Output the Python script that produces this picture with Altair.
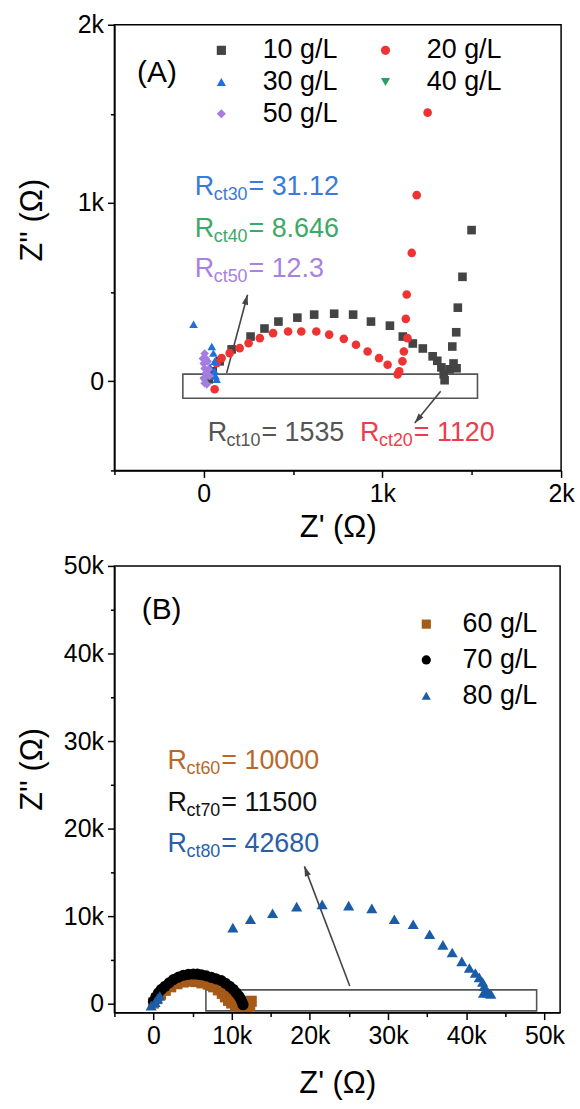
import math
import altair as alt
import pandas as pd

FONT = "Liberation Sans"

# ---------------- Panel A : 10-50 g/L ----------------
# legend fills column by column, so the order below gives rows 10|20, 30|40, 50
a_series = ["10 g/L", "30 g/L", "50 g/L", "20 g/L", "40 g/L"]
a_colors = ["#444444", "#1f6fdc", "#a57ce0", "#ee3333", "#2ca062"]
a_shapes = ["square", "triangle-up", "diamond", "circle", "triangle-down"]

a10_x = [28, 50, 89, 156, 262, 340, 418, 524, 618, 730, 836, 936, 1042, 1114, 1170,
         1226, 1281, 1307, 1330, 1343, 1348, 1376, 1398, 1415, 1391, 1413, 1422, 1448, 1499]
a10_y = [11, 56, 112, 179, 251, 296, 335, 357, 374, 379, 374, 335, 312, 251, 212,
         184, 140, 115, 78, 39, 6, 67, 100, 73, 195, 275, 413, 586, 848]

a20_x = [61, 72, 100, 145, 201, 251, 314, 388, 472, 546, 630, 702, 784, 852, 917,
         981, 1029, 1085, 1094, 1112, 1120, 1140, 1131, 1136, 1164, 1192, 1253]
a20_y = [-45, 102, 130, 158, 186, 214, 242, 270, 279, 279, 279, 262, 238, 205, 167,
         130, 93, 39, 56, 112, 167, 242, 350, 487, 720, 1044, 1507]

a30_x = [-57, 45, 54, 61, 61, 72, 35, 66]
a30_y = [320, 195, 158, 112, 56, 11, 80, 30]

a40_x = [2, 4, 6, 8, 9]
a40_y = [1, 3, 4, 3, 1]

a50_x = [5, 11, 0, 5, 11, 0, 5, 17, 22, 28, -5, 33]
a50_y = [156, 128, 100, 72, 45, 17, -11, -17, 112, 67, 128, 30]

a_draw_order = ["10 g/L", "20 g/L", "30 g/L", "40 g/L", "50 g/L"]

a_xdom = [-500, 2000]
a_ydom = [-500, 2000]
a_ticks = [-500, 0, 500, 1000, 1500, 2000]

a_box = {"x": [-117], "x2": [1532], "y": [-95], "y2": [40]}
a_arrow_x1 = [128, 1326]
a_arrow_y1 = [46, -56]
a_arrow_x2 = [245, 1181]
a_arrow_y2 = [485, -234]

a_rct_sub = ["ct30", "ct40", "ct50", "ct10", "ct20"]
a_rct_val = ["= 31.12", "= 8.646", "= 12.3", "= 1535", "= 1120"]
a_rct_x = [-50, -50, -50, 22, 875]
a_rct_y = [1088, 854, 631, -290, -290]
a_rct_col = ["#3a7ad8", "#3ea86a", "#a882e0", "#555555", "#ee3d4a"]

# ---------------- Panel B : 60-80 g/L ----------------
b_series = ["60 g/L", "70 g/L", "80 g/L"]
b_colors = ["#a65a18", "#000000", "#1b5ca6"]
b_shapes = ["square", "circle", "triangle-up"]

b60_x = [0, 400, 900, 1500, 2200, 3000, 3800, 4600, 5400, 6200, 7000, 7700, 8300,
         8800, 9200, 9600, 10000, 10500, 11000, 11600, 12100, 12500, 12300, 11900]
b60_y = [100, 600, 1100, 1550, 1950, 2300, 2500, 2600, 2550, 2400, 2250, 1950, 1600,
         1200, 800, 400, 100, -150, -250, -100, 100, 300, -200, -300]

b70_x = [0, 300, 630, 1000, 1480, 2000, 2540, 3200, 3810, 4450, 5080, 5600, 6130,
         6750, 7400, 8000, 8670, 9200, 9730, 10200, 10580, 10900, 11130, 11300, 11450]
b70_y = [300, 800, 1250, 1650, 2010, 2400, 2770, 3050, 3260, 3370, 3410, 3400, 3330,
         3200, 3030, 2850, 2650, 2350, 2010, 1650, 1250, 900, 600, 230, -100]

b80_x = [-300, 200, 500, 800, 10150, 12400, 15230, 18310, 21570, 24960, 27920, 30800,
         33210, 35320, 37010, 38200, 39430, 40400, 41160, 41660, 42090, 42300, 42510,
         42850, 43140, 42200]
b80_y = [-200, 200, 600, 900, 8710, 9660, 10340, 11100, 11360, 11210, 10900, 9660,
         9090, 7950, 6740, 5870, 4850, 4090, 3520, 3030, 2500, 2010, 1510, 1250, 1140, 1250]

b_xdom = [-5000, 52000]
b_ydom = [-1000, 50000]
b_xticks = list(range(-5000, 50001, 5000))
b_yticks = list(range(0, 50001, 5000))

b_box = {"x": [6700], "x2": [49000], "y": [-800], "y2": [1600]}
b_arrow_x1 = [25100]
b_arrow_y1 = [2050]
b_arrow_x2 = [19300]
b_arrow_y2 = [15700]

b_rct_sub = ["ct60", "ct70", "ct80"]
b_rct_val = ["= 10000", "= 11500", "= 42680"]
b_rct_x = [1800, 1800, 1800]
b_rct_y = [27720, 22950, 18290]
b_rct_col = ["#b8692a", "#111111", "#2a5fa8"]

ARROW_PATH = "M0,0L-0.45,1.4L0.45,1.4Z"


def series_frame(names, xs, ys):
    rows = []
    for name, sx, sy in zip(names, xs, ys):
        for x, y in zip(sx, sy):
            rows.append({"series": name, "x": x, "y": y})
    return pd.DataFrame(rows)


def k_label(step):
    return (f"datum.value % {step} === 0 ? (datum.value === 0 ? '0' : "
            f"(datum.value / 1000) + 'k') : ''")


def panel(df, names, colors, shapes, xdom, ydom, xticks, yticks, major,
          w, h, legend, box, arrows, rct, tag, tag_xy, msize, xtitle_pad, ytitle_y):
    tick_size = {"condition": {"test": f"datum.value % {major} === 0", "value": 7},
                 "value": 4}
    xax = alt.Axis(values=xticks, labelExpr=k_label(major), tickSize=tick_size,
                   title="Z' (\u03a9)", titlePadding=xtitle_pad, labelPadding=4,
                   labelFlush=False)
    yax = alt.Axis(values=yticks, labelExpr=k_label(major), tickSize=tick_size,
                   title="Z'' (\u03a9)", titleX=-66, titleY=ytitle_y,
                   titleBaseline="bottom", labelPadding=4, labelFlush=False)
    X = lambda f: alt.X(f, type="quantitative",
                        scale=alt.Scale(domain=xdom, nice=False, zero=False), axis=xax)
    Y = lambda f: alt.Y(f, type="quantitative",
                        scale=alt.Scale(domain=ydom, nice=False, zero=False), axis=yax)

    pts = alt.Chart(df).mark_point(filled=True, opacity=1, size=msize).encode(
        x=X("x"), y=Y("y"),
        color=alt.Color("series:N", scale=alt.Scale(domain=names, range=colors),
                        legend=legend),
        shape=alt.Shape("series:N", scale=alt.Scale(domain=names, range=shapes),
                        legend=legend),
    )

    rect = alt.Chart(pd.DataFrame(box)).mark_rect(
        fillOpacity=0, stroke="#555555", strokeWidth=1.6
    ).encode(x=X("x"), x2=alt.X2("x2"), y=Y("y"), y2=alt.Y2("y2"))

    ax1, ay1, ax2, ay2 = arrows
    sx = w / (xdom[1] - xdom[0])
    sy = h / (ydom[1] - ydom[0])
    ang = [math.degrees(math.atan2((b - a) * sx, (d - c) * sy)) % 360
           for a, b, c, d in zip(ax1, ax2, ay1, ay2)]
    adf = pd.DataFrame({"x": ax1, "y": ay1, "x2": ax2, "y2": ay2, "ang": ang})
    line = alt.Chart(adf).mark_rule(color="#444444", strokeWidth=1.6).encode(
        x=X("x"), y=Y("y"), x2=alt.X2("x2"), y2=alt.Y2("y2"))
    head = alt.Chart(adf).mark_point(shape=ARROW_PATH, filled=True, opacity=1,
                                     color="#444444", size=200).encode(
        x=X("x2"), y=Y("y2"), angle=alt.Angle("ang:Q", scale=None))

    sub, val, rx, ry, rc = rct
    rdf = pd.DataFrame({"x": rx, "y": ry, "sub": sub, "val": val, "col": rc})
    base = alt.Chart(rdf).encode(x=X("x"), y=Y("y"),
                                 fill=alt.Fill("col:N", scale=None))
    r_main = base.mark_text(text="R", font=FONT, fontSize=27, align="left",
                            baseline="middle")
    r_sub = base.mark_text(font=FONT, fontSize=18, align="left", baseline="middle",
                           dx=19, dy=8).encode(text="sub:N")
    r_val = base.mark_text(font=FONT, fontSize=27, align="left", baseline="middle",
                           dx=54).encode(text="val:N")

    tdf = pd.DataFrame({"x": [tag_xy[0]], "y": [tag_xy[1]], "t": [tag]})
    tag_txt = alt.Chart(tdf).mark_text(font=FONT, fontSize=30, align="left",
                                       baseline="middle", color="black").encode(
        x=X("x"), y=Y("y"), text="t:N")

    return alt.layer(rect, line, head, pts, r_main, r_sub, r_val, tag_txt).properties(
        width=w, height=h)


def legend_for(x, y, cols, offset, colpad, rowpad):
    return alt.Legend(orient="none", legendX=x, legendY=y, columns=cols, title=None,
                      labelFont=FONT, labelFontSize=27, labelColor="black",
                      symbolSize=85, symbolStrokeWidth=0, labelOffset=offset,
                      columnPadding=colpad, rowPadding=rowpad, padding=0)


df_a = series_frame(a_draw_order, [a10_x, a20_x, a30_x, a40_x, a50_x],
                    [a10_y, a20_y, a30_y, a40_y, a50_y])
df_b = series_frame(b_series, [b60_x, b70_x, b80_x], [b60_y, b70_y, b80_y])

panel_a = panel(df_a, a_series, a_colors, a_shapes, a_xdom, a_ydom, a_ticks, a_ticks,
                1000, 449, 448, legend_for(94, 12, 2, 28, 34, 4), a_box,
                (a_arrow_x1, a_arrow_y1, a_arrow_x2, a_arrow_y2),
                (a_rct_sub, a_rct_val, a_rct_x, a_rct_y, a_rct_col),
                "(A)", (-373, 1730), 75, 6, 196)

panel_b = panel(df_b, b_series, b_colors, b_shapes, b_xdom, b_ydom, b_xticks, b_yticks,
                10000, 448, 449, legend_for(300, 45, 1, 23, 34, 8), b_box,
                (b_arrow_x1, b_arrow_y1, b_arrow_x2, b_arrow_y2),
                (b_rct_sub, b_rct_val, b_rct_x, b_rct_y, b_rct_col),
                "(B)", (-1500, 45000), 125, 20, 204)

chart = alt.vconcat(panel_a, panel_b, spacing=10).resolve_scale(
    color="independent", shape="independent", fill="independent"
).properties(
    padding={"left": 16, "top": 9, "right": 5, "bottom": 5},
    background="white",
).configure_view(
    stroke="black", strokeWidth=1.5
).configure_axis(
    grid=False, domainColor="black", domainWidth=1.5, tickColor="black",
    tickWidth=1.5, labelFont=FONT, labelFontSize=25, labelColor="black",
    titleFont=FONT, titleFontSize=31, titleFontWeight="normal", titleColor="black",
)

chart.save("out.html", embed_options={"renderer": "svg", "actions": False})
